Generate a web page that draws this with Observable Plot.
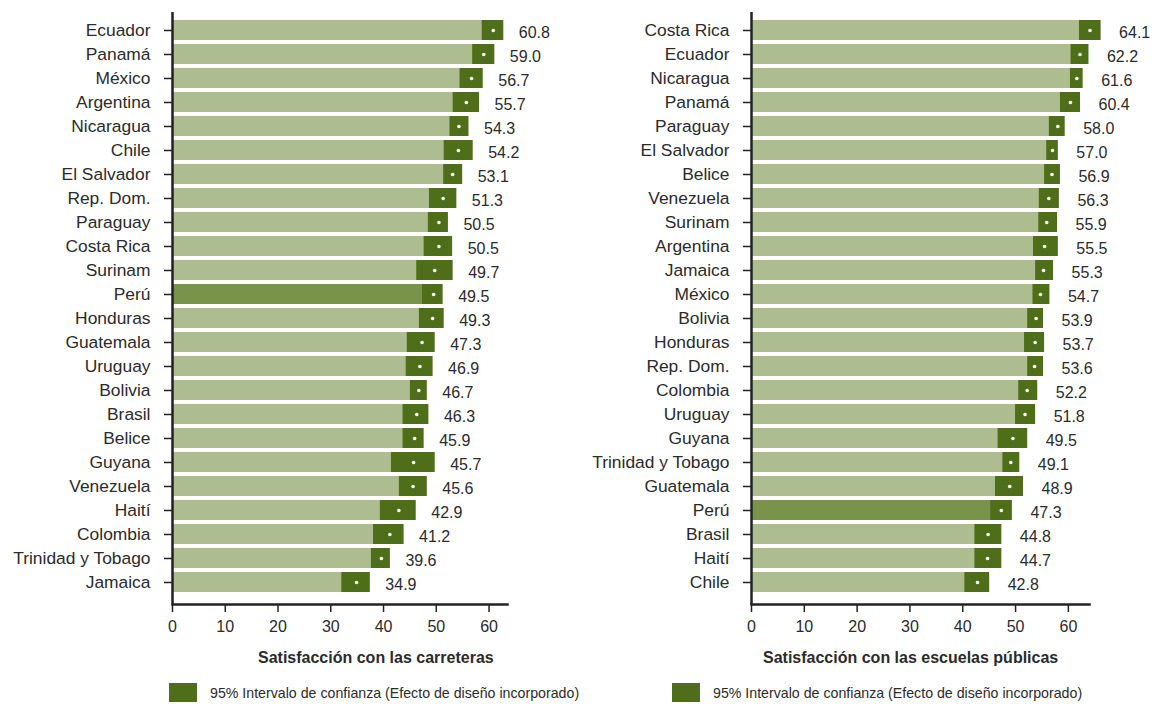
<!DOCTYPE html>
<html><head><meta charset="utf-8">
<script src="https://cdn.jsdelivr.net/npm/d3@7"></script>
<script src="https://cdn.jsdelivr.net/npm/@observablehq/plot@0.6"></script>
<style>
body{margin:0;background:#fff;font-family:"Liberation Sans",Arial,sans-serif;color:#2b2b2b}
#wrap{display:flex;width:1158px;height:704px}
.panel{width:579px;height:704px;position:relative}
.panel svg{position:absolute;left:0;top:0}
.title{position:absolute;top:648px;font-weight:bold;font-size:16px;line-height:20px;white-space:nowrap}
.leg{position:absolute;top:683px;display:flex;align-items:center;font-size:14.2px;white-space:nowrap}
.sw{width:28px;height:19px;background:#4e6e1a;margin-right:13px}
</style></head>
<body>
<div id="wrap">
  <div class="panel" id="p1"></div>
  <div class="panel" id="p2"></div>
</div>
<script>
// Left panel: Satisfacción con las carreteras
const roadCountries = ["Ecuador","Panamá","México","Argentina","Nicaragua","Chile","El Salvador","Rep. Dom.","Paraguay","Costa Rica","Surinam","Perú","Honduras","Guatemala","Uruguay","Bolivia","Brasil","Belice","Guyana","Venezuela","Haití","Colombia","Trinidad y Tobago","Jamaica"];
const roadMean = [60.8,59.0,56.7,55.7,54.3,54.2,53.1,51.3,50.5,50.5,49.7,49.5,49.3,47.3,46.9,46.7,46.3,45.9,45.7,45.6,42.9,41.2,39.6,34.9];
const roadLow  = [58.7,56.9,54.5,53.2,52.6,51.5,51.4,48.7,48.5,47.7,46.3,47.4,46.8,44.5,44.3,45.1,43.7,43.7,41.5,43.0,39.4,38.1,37.7,32.1];
const roadHigh = [62.8,61.1,58.9,58.2,56.2,57.0,55.0,53.9,52.3,53.1,53.2,51.3,51.5,49.8,49.4,48.3,48.6,47.7,49.8,48.3,46.2,43.9,41.3,37.5];

// Right panel: Satisfacción con las escuelas públicas
const schoolCountries = ["Costa Rica","Ecuador","Nicaragua","Panamá","Paraguay","El Salvador","Belice","Venezuela","Surinam","Argentina","Jamaica","México","Bolivia","Honduras","Rep. Dom.","Colombia","Uruguay","Guyana","Trinidad y Tobago","Guatemala","Perú","Brasil","Haití","Chile"];
const schoolMean = [64.1,62.2,61.6,60.4,58.0,57.0,56.9,56.3,55.9,55.5,55.3,54.7,53.9,53.7,53.6,52.2,51.8,49.5,49.1,48.9,47.3,44.8,44.7,42.8];
const schoolLow  = [62.1,60.5,60.4,58.5,56.4,55.9,55.5,54.5,54.4,53.4,53.8,53.3,52.3,51.7,52.3,50.6,50.0,46.7,47.6,46.2,45.3,42.3,42.3,40.4];
const schoolHigh = [66.2,63.9,62.8,62.3,59.4,58.1,58.5,58.3,57.95,58.1,57.2,56.5,55.3,55.5,55.3,54.2,53.8,52.3,50.8,51.5,49.4,47.4,47.4,45.1];

const xTicks = [0,10,20,30,40,50,60];
const highlight = "Perú";
const LIGHT = "#adbd8f", DARK = "#4e6e1a", HILITE = "#7a934a", INK = "#2b2b2b", AXIS = "#222";

function panel(countries, mean, low, high, xmax, marginRight, labelGap) {
  const data = countries.map((c, i) => ({country: c, mean: mean[i], low: low[i], high: high[i]}));
  return Plot.plot({
    width: 579, height: 645,
    marginLeft: 172, marginRight, marginTop: 12, marginBottom: 41,
    style: {fontFamily: "'Liberation Sans', Arial, sans-serif", fontSize: "16px", color: INK, background: "white", overflow: "visible"},
    x: {domain: [0, xmax]},
    y: {domain: countries, range: [18, 594], padding: 0},
    color: {type: "identity"},
    marks: [
      Plot.barX(data, {y: "country", x1: 0, x2: "mean", fill: d => d.country === highlight ? HILITE : LIGHT, insetTop: 2, insetBottom: 2}),
      Plot.barX(data, {y: "country", x1: "low", x2: "high", fill: DARK, insetTop: 2, insetBottom: 2}),
      Plot.dot(data, {y: "country", x: "mean", r: 1.8, fill: "white", stroke: null}),
      Plot.text(data, {y: "country", x: "high", text: d => d.mean.toFixed(1), textAnchor: "start", dx: labelGap, dy: 2, fontSize: 16, fill: INK}),
      Plot.axisY({tickSize: 8, tickPadding: 14, label: null, fontSize: 17.4, stroke: AXIS, strokeWidth: 1.5}),
      Plot.axisX({ticks: xTicks, tickFormat: d => d, tickSize: 8, tickPadding: 8, label: null, fontSize: 16, stroke: AXIS, strokeWidth: 1.5}),
      Plot.ruleX([0], {stroke: AXIS, strokeWidth: 2.5}),
      Plot.frame({anchor: "bottom", stroke: AXIS, strokeWidth: 2.5})
    ]
  });
}

function addText(el, titleText, titleLeft, legLeft) {
  const t = document.createElement("div");
  t.className = "title"; t.style.left = titleLeft + "px"; t.textContent = titleText;
  el.appendChild(t);
  const l = document.createElement("div");
  l.className = "leg"; l.style.left = legLeft + "px";
  const sw = document.createElement("div"); sw.className = "sw";
  const s = document.createElement("span"); s.textContent = "95% Intervalo de confianza (Efecto de diseño incorporado)";
  l.appendChild(sw); l.appendChild(s);
  el.appendChild(l);
}

const p1 = document.getElementById("p1");
p1.appendChild(panel(roadCountries, roadMean, roadLow, roadHigh, 63.5, 72, 15));
addText(p1, "Satisfacción con las carreteras", 258, 169);

const p2 = document.getElementById("p2");
p2.appendChild(panel(schoolCountries, schoolMean, schoolLow, schoolHigh, 64, 69, 18));
addText(p2, "Satisfacción con las escuelas públicas", 184, 93);
</script>
</body></html>
